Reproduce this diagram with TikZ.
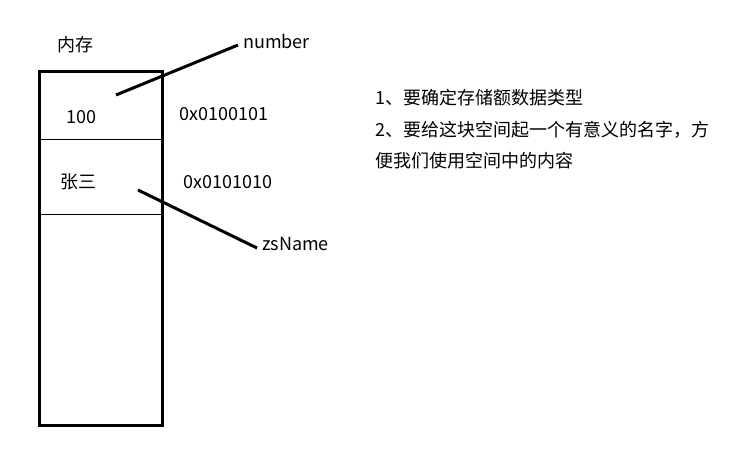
\documentclass[tikz,border=0pt]{standalone}
\usepackage{fontspec}
\setmainfont{Noto Sans CJK SC}
\begin{document}
\begin{tikzpicture}[x=1pt,y=-1pt,
  txt/.style={inner sep=0pt,font=\fontsize{18}{21}\selectfont},
  pointer/.style={line width=3pt},
  divider/.style={line width=0.8pt}]
\useasboundingbox (0,0) rectangle (731,451);
\fill[white] (0,0) rectangle (731,451);
\node[txt,anchor=west] (mem) at (57,45) {内存};
\draw[line width=3pt] (39,71) rectangle (162,425);
\coordinate (d1l) at (39,139); \coordinate (d1r) at (162,139);
\coordinate (d2l) at (39,214); \coordinate (d2r) at (162,214);
\draw[divider] (d1l) -- (d1r);
\draw[divider] (d2l) -- (d2r);
\node[txt,anchor=west] (v1) at (66,117) {100};
\node[txt,anchor=west] (a1) at (179,114) {0x0100101};
\node[txt,anchor=west] (v2) at (60,182) {张三};
\node[txt,anchor=west] (a2) at (183,182) {0x0101010};
\node[txt,anchor=west] (n1) at (243,41) {number};
\node[txt,anchor=west] (n2) at (262,244) {zsName};
\coordinate (p1) at (116,95);
\coordinate (q1) at (238,45);
\coordinate (p2) at (138,190);
\coordinate (q2) at (257,248);
\draw[pointer] (p1) -- (q1);
\draw[pointer] (p2) -- (q2);
\node[txt,anchor=west] (t1) at (375,98) {1、要确定存储额数据类型};
\node[txt,anchor=west] (t2) at (375,130) {2、要给这块空间起一个有意义的名字，方};
\node[txt,anchor=west] (t3) at (375,161) {便我们使用空间中的内容};
\end{tikzpicture}
\end{document}
